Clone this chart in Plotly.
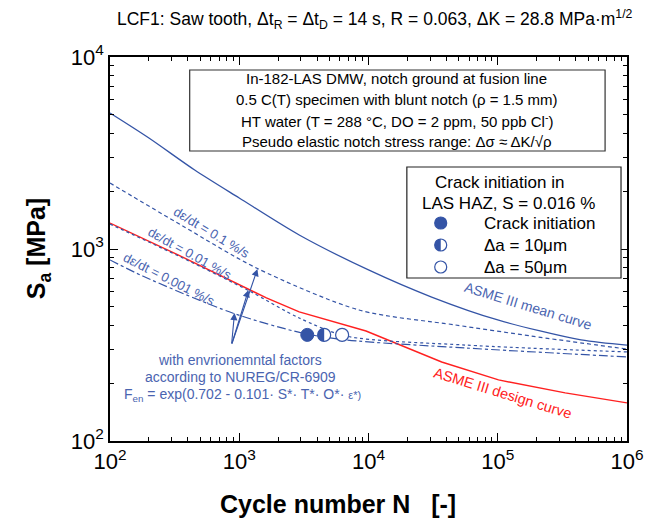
import math
import plotly.graph_objects as go

# ---------------- data ----------------
mean_N = [100, 200, 452, 1000, 2910, 10000, 30800, 100000, 441000, 1000000]
mean_S = [5109, 3786, 2579, 1843, 1183, 778, 562, 427, 336, 316]

design_N = [100, 365, 1622, 2911, 9570, 36830, 101400, 332700, 1000000]
design_S = [1365, 908, 556, 470, 374, 258, 208, 178, 158]

rate01_N = [100, 365, 1358, 8450, 47200, 182000, 1000000]
rate01_S = [2206, 1318, 796, 481, 402, 352, 301]

rate001_N = [100, 365, 1199, 2911, 6711, 56400, 1000000]
rate001_S = [1349, 898, 604, 437, 352, 316, 291]

rate0001_N = [100, 179, 887, 3070, 6711, 56400, 1000000]
rate0001_S = [877, 723, 464, 365, 336, 305, 274]

init_N = [3360]
init_S = [357]
da10_N = [4540]
da10_S = [357]
da50_N = [6250]
da50_S = [357]

x_tick_vals = [1e2, 1e3, 1e4, 1e5, 1e6]
x_tick_text = ["10<sup>2</sup>", "10<sup>3</sup>", "10<sup>4</sup>", "10<sup>5</sup>", "10<sup>6</sup>"]
y_tick_vals = [1e2, 1e3, 1e4]
y_tick_text = ["10<sup>2</sup>", "10<sup>3</sup>", "10<sup>4</sup>"]

# ---------------- style ----------------
BLUE = "#3454a6"
RED = "#ff2020"
TXT = "#4a64b0"
FONT = "Liberation Sans, Arial, sans-serif"

L, R, T, B = 110, 27, 57, 77
W, H = 656, 518
PW, PH = W - L - R, H - T - B


def px(x):
    return (x - L) / PW


def py(y):
    return (H - B - y) / PH


fig = go.Figure()

fig.add_trace(go.Scatter(x=mean_N, y=mean_S, mode="lines",
                         line=dict(color=BLUE, width=1.3, shape="spline", smoothing=0.8)))
fig.add_trace(go.Scatter(x=rate01_N, y=rate01_S, mode="lines",
                         line=dict(color=BLUE, width=1.2, dash="4px,3px", shape="spline", smoothing=0.8)))
fig.add_trace(go.Scatter(x=design_N, y=design_S, mode="lines",
                         line=dict(color=RED, width=1.4)))
fig.add_trace(go.Scatter(x=rate001_N, y=rate001_S, mode="lines",
                         line=dict(color=BLUE, width=1.2, dash="dot", shape="spline", smoothing=0.8)))
fig.add_trace(go.Scatter(x=rate0001_N, y=rate0001_S, mode="lines",
                         line=dict(color=BLUE, width=1.2, dash="dashdot", shape="spline", smoothing=0.8)))

# markers
fig.add_trace(go.Scatter(x=init_N, y=init_S, mode="markers",
                         marker=dict(symbol="circle", size=13, color=BLUE, line=dict(color=BLUE, width=1))))
fig.add_trace(go.Scatter(x=da10_N, y=da10_S, mode="markers",
                         marker=dict(symbol="circle", size=13, color="white", line=dict(color=BLUE, width=1.2))))
fig.add_trace(go.Scatter(x=da50_N, y=da50_S, mode="markers",
                         marker=dict(symbol="circle", size=13, color="white", line=dict(color=BLUE, width=1.2))))

r = 6.5
k = 0.5523 * r
half_path = (f"M 0,{-r} C {-k},{-r} {-r},{-k} {-r},0 C {-r},{k} {-k},{r} 0,{r} Z")

shapes = []
for n, s in zip(da10_N, da10_S):
    shapes.append(dict(type="path", xref="x", yref="y", xsizemode="pixel", ysizemode="pixel",
                       xanchor=n, yanchor=s, path=half_path, fillcolor=BLUE,
                       line=dict(width=0), layer="above"))

# info box
shapes.append(dict(type="rect", xref="paper", yref="paper", x0=px(190), x1=px(607),
                   y0=py(151), y1=py(70), line=dict(color="#333", width=1.2), fillcolor="white", layer="above"))
# legend box
shapes.append(dict(type="rect", xref="paper", yref="paper", x0=px(408), x1=px(623),
                   y0=py(278), y1=py(167), line=dict(color="#222", width=1.2), fillcolor="white", layer="above"))

lr = 6
lx = px(442)
for yy, kind in [(223, "full"), (245, "half"), (267, "open")]:
    shapes.append(dict(type="circle", xref="paper", yref="paper", xsizemode="pixel", ysizemode="pixel",
                       xanchor=lx, yanchor=py(yy), x0=-lr, x1=lr, y0=-lr, y1=lr,
                       fillcolor=BLUE if kind == "full" else "white",
                       line=dict(color=BLUE, width=1.2), layer="above"))
    if kind == "half":
        kk = 0.5523 * lr
        shapes.append(dict(type="path", xref="paper", yref="paper", xsizemode="pixel", ysizemode="pixel",
                           xanchor=lx, yanchor=py(yy),
                           path=f"M 0,{-lr} C {-kk},{-lr} {-lr},{-kk} {-lr},0 C {-lr},{kk} {-kk},{lr} 0,{lr} Z",
                           fillcolor=BLUE, line=dict(width=0), layer="above"))

ann = []


def txt(x, y, text, size=14, color="black", xanchor="center", angle=0):
    ann.append(dict(xref="paper", yref="paper", x=x, y=y, text=text, showarrow=False,
                    xanchor=xanchor, yanchor="middle", textangle=angle,
                    font=dict(family=FONT, size=size, color=color)))


# title
txt(px(376), py(20), "LCF1: Saw tooth, Δt<sub>R</sub> = Δt<sub>D</sub> = 14 s, R = 0.063, ΔK = 28.8 MPa·m<sup>1/2</sup>",
    size=17.5)
# axis titles
txt(px(339), py(504), "<b>Cycle number N   [-]</b>", size=25)
txt(px(38), 0.5, "<b>S<sub>a</sub> [MPa]</b>", size=25, angle=-90)

# info box text
txt(px(398), py(78), "In-182-LAS DMW, notch ground at fusion line", size=15)
txt(px(398), py(99), "0.5 C(T) specimen with blunt notch (ρ = 1.5 mm)", size=15)
txt(px(398), py(121), "HT water (T = 288 °C, DO = 2 ppm, 50 ppb Cl<sup>-</sup>)", size=15)
txt(px(398), py(141), "Pseudo elastic notch stress range: Δσ ≈ ΔK/√ρ", size=15)

# legend text
txt(px(501), py(182), "Crack initiation in", size=17)
txt(px(510), py(203), "LAS HAZ, S = 0.016 %", size=17)
txt(px(483), py(223), "Crack initiation", size=17, xanchor="left")
txt(px(483), py(245), "Δa = 10μm", size=17, xanchor="left")
txt(px(483), py(267), "Δa = 50μm", size=17, xanchor="left")

# curve labels
txt(px(212), py(232), "dε/dt = 0.1 %/s", size=13, color=TXT, angle=31)
txt(px(190), py(254), "dε/dt = 0.01 %/s", size=13, color=TXT, angle=29)
txt(px(170), py(279), "dε/dt = 0.001 %/s", size=13, color=TXT, angle=27)
txt(px(530), py(306), "ASME III mean curve", size=14, color=TXT, angle=17)
txt(px(504), py(393), "ASME III design curve", size=14.5, color=RED, angle=17)

# environmental note
txt(px(241), py(360), "with envrionemntal factors", size=14, color=TXT)
txt(px(241), py(377), "according to NUREG/CR-6909", size=14, color=TXT)
txt(px(243), py(395), "F<sub>en</sub> = exp(0.702 - 0.101· S*· T*· O*· <span style='font-size:11px'>ε*)</span>",
    size=14, color=TXT)

# arrows (head in log coords, tail offset in px)
tail = (232, 345)
for hx, hy in [(235, 313), (249, 290), (258, 269)]:
    lx_ = 2 + (hx - L) / (PW / 4)
    ly_ = 4 - (hy - T) / (PH / 2)
    ann.append(dict(x=lx_, y=ly_, xref="x", yref="y", ax=tail[0] - hx, ay=tail[1] - hy,
                    axref="pixel", ayref="pixel", showarrow=True, arrowhead=2, arrowsize=1.3,
                    arrowwidth=1.1, arrowcolor=BLUE, text=""))

axis_common = dict(type="log", showgrid=False, zeroline=False, showline=True, linecolor="black",
                   linewidth=1.6, ticks="inside", ticklen=8, tickwidth=1.2, tickcolor="black",
                   mirror="ticks", tickfont=dict(family=FONT, size=22, color="black"),
                   tickmode="array")

minor_x = [m * 10 ** e for e in range(2, 6) for m in range(2, 10)]
minor_y = [m * 10 ** e for e in range(2, 4) for m in range(2, 10)]

fig.update_xaxes(**axis_common, range=[2, 6], tickvals=x_tick_vals, ticktext=x_tick_text,
                 minor=dict(ticks="inside", ticklen=4, tickwidth=1, tickcolor="black",
                            tickmode="array", tickvals=minor_x, showgrid=False))
fig.update_yaxes(**axis_common, range=[2, 4], tickvals=y_tick_vals, ticktext=y_tick_text,
                 minor=dict(ticks="inside", ticklen=4, tickwidth=1, tickcolor="black",
                            tickmode="array", tickvals=minor_y, showgrid=False))

fig.update_layout(width=W, height=H, margin=dict(l=L, r=R, t=T, b=B),
                  paper_bgcolor="white", plot_bgcolor="white", showlegend=False,
                  font=dict(family=FONT), shapes=shapes, annotations=ann)

fig.write_html("out.html")
